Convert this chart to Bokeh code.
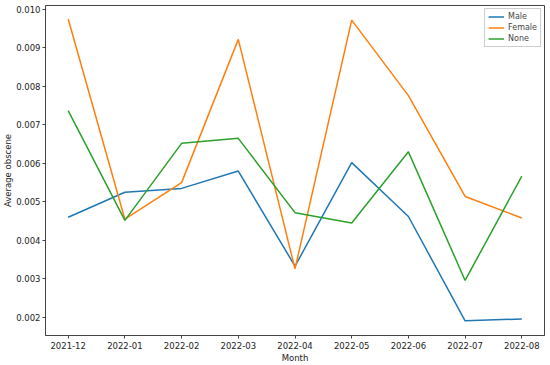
from bokeh.plotting import figure
from bokeh.models import Range1d, FixedTicker, Legend, LegendItem, ColumnDataSource
from bokeh.embed import file_html
from bokeh.resources import INLINE

months = ["2021-12", "2022-01", "2022-02", "2022-03", "2022-04", "2022-05", "2022-06", "2022-07", "2022-08"]
male = [0.00460, 0.00525, 0.00535, 0.00580, 0.00333, 0.00602, 0.00462, 0.00191, 0.00196]
female = [0.00975, 0.00455, 0.00550, 0.00922, 0.00326, 0.00972, 0.00776, 0.00514, 0.00458]
none_ = [0.00737, 0.00452, 0.00652, 0.00665, 0.00472, 0.00445, 0.00630, 0.00296, 0.00567]
y_ticks = [0.002, 0.003, 0.004, 0.005, 0.006, 0.007, 0.008, 0.009, 0.010]

idx = list(range(len(months)))
src = ColumnDataSource(dict(x=idx, male=male, female=female, none=none_))

p = figure(width=550, height=365, output_backend="svg", toolbar_location=None,
           x_range=Range1d(-0.4, len(months) - 1 + 0.4),
           y_range=Range1d(0.00153, 0.01010),
           min_border_left=30, min_border_right=6, min_border_top=5, min_border_bottom=0)

font = "DejaVu Sans"
p.xgrid.visible = False
p.ygrid.visible = False
p.outline_line_color = "#444444"
p.outline_line_width = 1

p.xaxis.ticker = FixedTicker(ticks=idx)
p.xaxis.major_label_overrides = {i: m for i, m in enumerate(months)}
p.yaxis.ticker = FixedTicker(ticks=y_ticks)
p.yaxis.major_label_overrides = {t: f"{t:.3f}" for t in y_ticks}

for ax in (p.xaxis[0], p.yaxis[0]):
    ax.minor_tick_line_color = None
    ax.major_tick_in = 0
    ax.major_tick_out = 3
    ax.axis_line_color = "#444444"
    ax.major_tick_line_color = "#444444"
    ax.major_label_text_font = font
    ax.major_label_text_font_size = "8.5px"
    ax.major_label_text_color = "#222222"
    ax.axis_label_text_font = font
    ax.axis_label_text_font_size = "8.5px"
    ax.axis_label_text_font_style = "normal"
    ax.axis_label_text_color = "#222222"
    ax.major_label_standoff = 3
    ax.axis_label_standoff = 1

p.yaxis.major_label_standoff = 2
p.yaxis.axis_label_standoff = 0

p.xaxis.axis_label = "Month"
p.yaxis.axis_label = "Average obscene"

r1 = p.line("x", "male", source=src, color="#1f77b4", line_width=1.5)
r2 = p.line("x", "female", source=src, color="#ff7f0e", line_width=1.5)
r3 = p.line("x", "none", source=src, color="#2ca02c", line_width=1.5)

legend = Legend(items=[LegendItem(label="Male", renderers=[r1]),
                       LegendItem(label="Female", renderers=[r2]),
                       LegendItem(label="None", renderers=[r3])],
                location="top_right")
legend.label_text_font = font
legend.label_text_font_size = "8px"
legend.label_height = 9
legend.glyph_height = 9
legend.glyph_width = 16
legend.spacing = 2
legend.padding = 3
legend.margin = 3
legend.label_standoff = 4
legend.border_line_color = "#cccccc"
legend.border_line_alpha = 1
legend.background_fill_alpha = 0.8
p.add_layout(legend)

open("out.html", "w").write(file_html(p, INLINE))
